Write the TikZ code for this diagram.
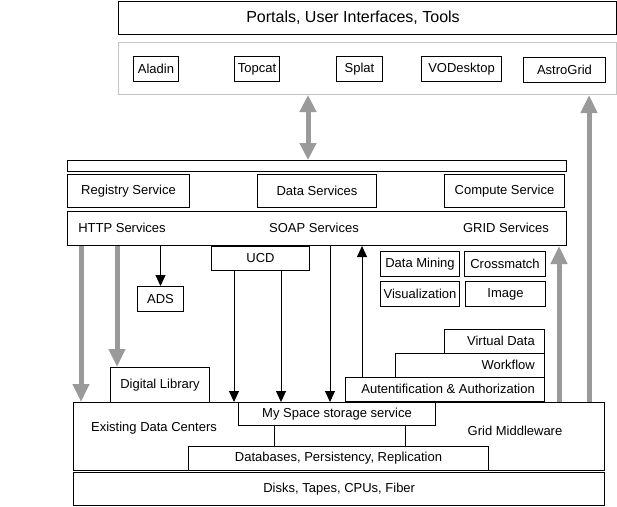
\documentclass[tikz,border=0pt]{standalone}
\usepackage{fontspec}
\setmainfont{Liberation Sans}
\usetikzlibrary{arrows.meta}
\definecolor{arrowgray}{HTML}{9A9A9A}
\definecolor{framegray}{HTML}{C4C4C4}
\newcommand\lblfont{\fontsize{13}{15}\selectfont}
\newcommand\bigfont{\fontsize{16}{19}\selectfont}
\tikzset{
  box/.style={draw, line width=1pt, inner sep=0pt, anchor=north west, font=\lblfont},
  thickbox/.style={box, line width=1.4pt},
  lbl/.style={inner sep=0pt, font=\lblfont},
  blk/.style={line width=1pt, -{Triangle[length=11pt,width=10pt]}},
  garrow/.style={draw=arrowgray, line width=5pt, -{Triangle[length=18pt,width=16pt]}},
  gdouble/.style={draw=arrowgray, line width=5pt, {Triangle[length=17pt,width=16pt]}-{Triangle[length=17pt,width=16pt]}},
  plainline/.style={line width=1pt}
}
\begin{document}
\begin{tikzpicture}[x=1pt,y=-1pt]
\useasboundingbox (0,0) rectangle (617,506);
% top
\node[thickbox, minimum width=498pt, minimum height=33pt] (portals) at (118,1) {};
\node[inner sep=0pt, font=\bigfont] (portalst) at (353,18) {Portals, User Interfaces, Tools};
\node[box, draw=framegray, minimum width=498pt, minimum height=52pt] (tools) at (118,42) {};
\node[box, minimum width=45pt, minimum height=25pt] (aladin) at (133,56) {Aladin};
\node[box, minimum width=45pt, minimum height=25pt] (topcat) at (234,56) {Topcat};
\node[box, minimum width=46pt, minimum height=25pt] (splat) at (336,56) {Splat};
\node[box, minimum width=80pt, minimum height=25pt] (vodesk) at (421,56) {VODesktop};
\node[box, minimum width=82pt, minimum height=25pt] (astro) at (523,57) {AstroGrid};
% services
\node[box, minimum width=499pt, minimum height=11pt] (bar) at (67,160) {};
\node[box, minimum width=122pt, minimum height=33pt] (registry) at (67,174) {Registry Service};
\node[box, minimum width=119pt, minimum height=33pt] (data) at (257,174) {Data Services};
\node[box, minimum width=120pt, minimum height=33pt] (compute) at (444,174) {Compute Service};
\node[box, minimum width=499pt, minimum height=34pt] (http) at (67,211) {};
\node[lbl] (httpt) at (122,228) {HTTP Services};
\node[lbl] (soapt) at (314,228) {SOAP Services};
\node[lbl] (gridt) at (506,228) {GRID Services};
% middle
\node[box, minimum width=98pt, minimum height=24pt] (ucd) at (211,246) {UCD};
\node[box, minimum width=46pt, minimum height=25pt] (ads) at (137,286) {ADS};
\node[box, minimum width=79pt, minimum height=25pt] (dm) at (380,251) {Data Mining};
\node[box, minimum width=81pt, minimum height=25pt] (cm) at (464,251) {Crossmatch};
\node[box, minimum width=79pt, minimum height=25pt] (vis) at (380,281) {Visualization};
\node[box, minimum width=80pt, minimum height=25pt] (img) at (465,281) {Image};
\node[box, minimum width=100pt, minimum height=24pt] (vd) at (444,329) {};
\node[box, minimum width=149pt, minimum height=24pt] (wf) at (395,353) {};
\node[box, minimum width=199pt, minimum height=24pt] (auth) at (345,377) {};
\node[lbl, anchor=east] (vdt) at (535,341) {Virtual Data};
\node[lbl, anchor=east] (wft) at (535,365) {Workflow};
\node[lbl, anchor=east] (autht) at (535,389) {Autentification \& Authorization};
\node[box, minimum width=99pt, minimum height=35pt] (diglib) at (110,367) {Digital Library};
% bottom
\node[thickbox, minimum width=531pt, minimum height=68pt] (big) at (73,402) {};
\node[lbl] (edc) at (154,428) {Existing Data Centers};
\node[lbl] (gmw) at (515,431) {Grid Middleware};
\node[box, minimum width=197pt, minimum height=23pt] (myspace) at (238,402) {My Space storage service};
\node[box, minimum width=300pt, minimum height=24pt] (db) at (188,446) {Databases, Persistency, Replication};
\node[thickbox, minimum width=531pt, minimum height=33pt] (disks) at (73,472) {Disks, Tapes, CPUs, Fiber};
% connectors
\draw[plainline] (myspace.south -| 274,0) -- (db.north -| 274,0);
\draw[plainline] (myspace.south -| 405,0) -- (db.north -| 405,0);
\draw[blk] (http.south -| ads.north) -- (ads.north);
\draw[blk] (ucd.south -| 234,0) -- (big.north -| 234,0);
\draw[blk] (ucd.south -| 281,0) -- (myspace.north -| 281,0);
\draw[blk] (http.south -| 330,0) -- (myspace.north -| 330,0);
\draw[blk] (auth.north -| 362,0) -- (http.south -| 362,0);
\draw[garrow] (http.south -| 81,0) -- (big.north -| 81,0);
\draw[garrow] (http.south -| 117,0) -- (diglib.north -| 117,0);
\draw[garrow] (big.north -| 559,0) -- (http.south -| 559,0);
\draw[garrow] (big.north -| 589,0) -- (tools.south -| 589,0);
\draw[gdouble] (tools.south -| 308,0) -- (bar.north -| 308,0);
\end{tikzpicture}
\end{document}
